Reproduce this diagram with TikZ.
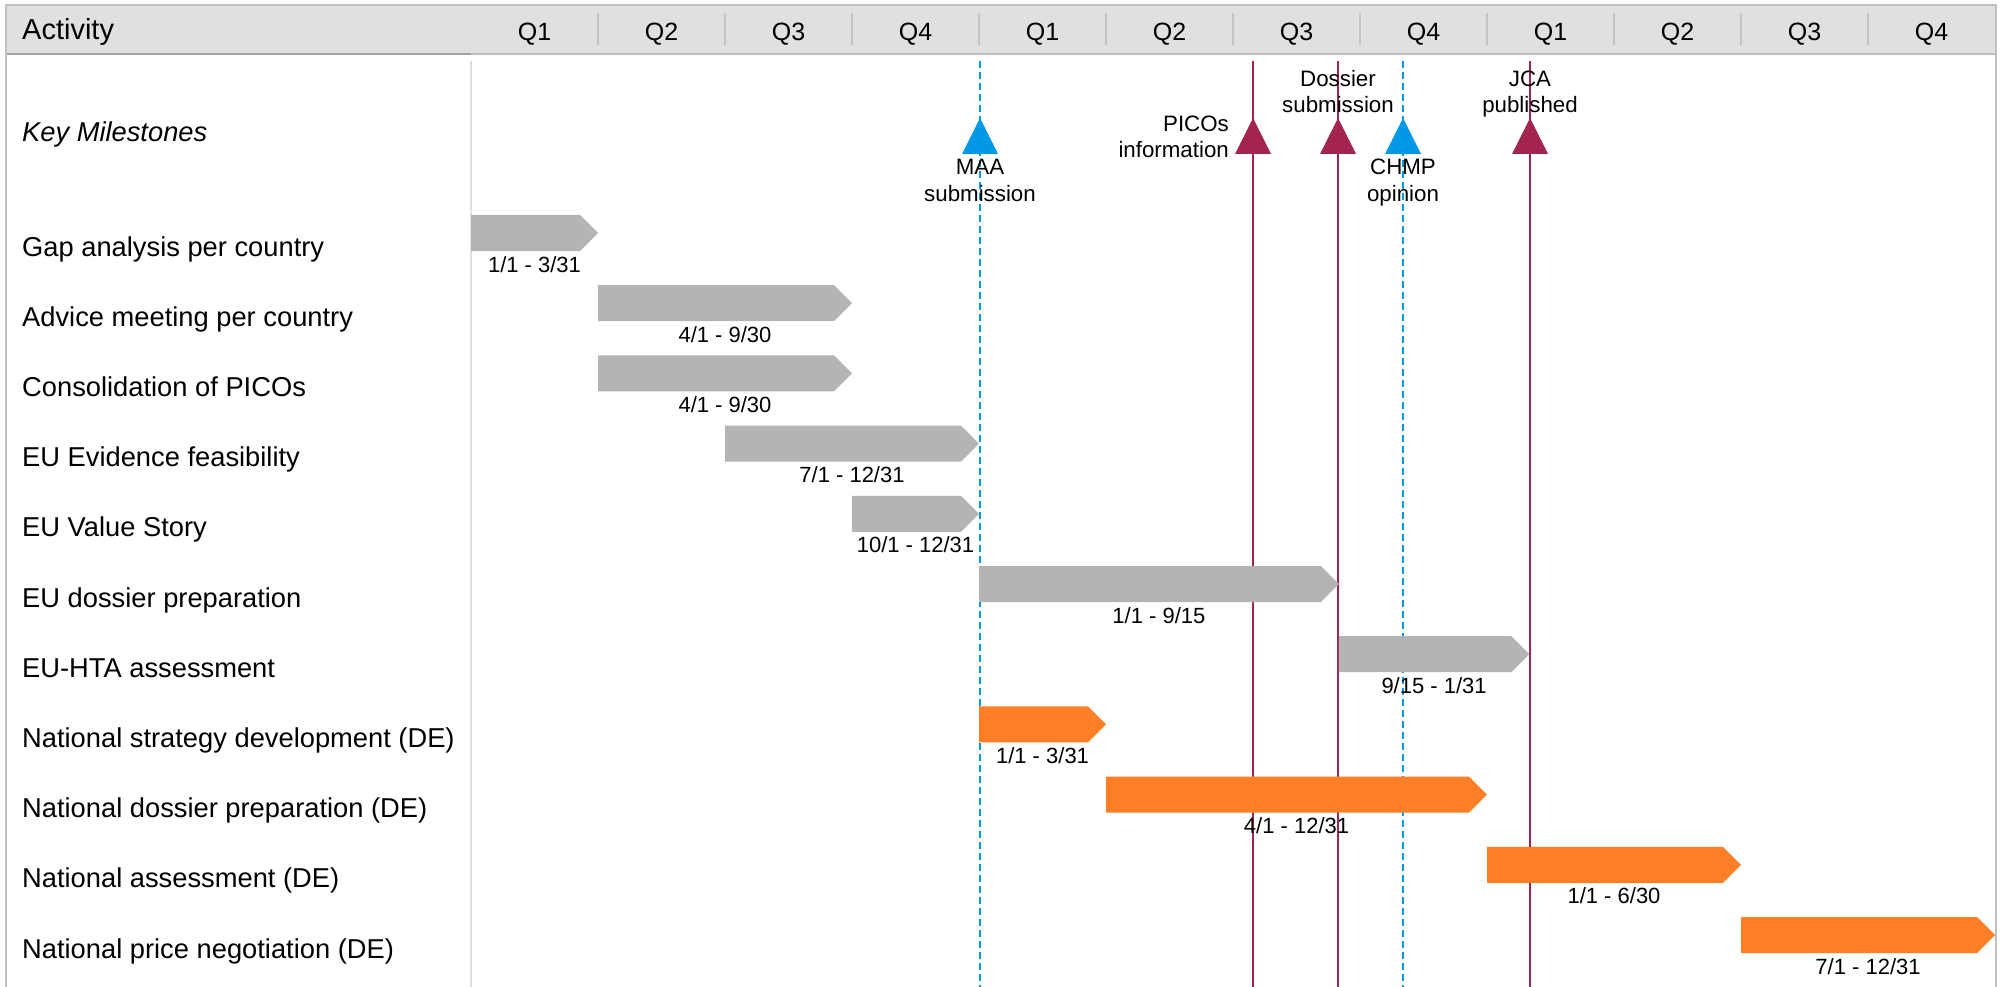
\documentclass[tikz,border=0pt]{standalone}
\usepackage{fontspec}
\setmainfont{Liberation Sans}

\definecolor{hdrFill}{RGB}{224,224,224}
\definecolor{frameGray}{RGB}{192,192,192}
\definecolor{sepGray}{RGB}{196,196,196}
\definecolor{gridGray}{RGB}{224,224,224}
\definecolor{barGray}{RGB}{180,180,180}
\definecolor{barOrange}{RGB}{255,127,39}
\definecolor{msBlue}{RGB}{0,153,229}
\definecolor{msRed}{RGB}{163,36,76}

% Gantt bar: name, row, start quarter, end quarter, colour, date text
\newcommand\ganttbar[6]{%
  \pgfmathsetmacro\gbx{471+#3*127}%
  \pgfmathsetmacro\gex{471+#4*127}%
  \pgfmathsetmacro\gty{215+#2*70.2}%
  \fill[#5] (\gbx,\gty) -- (\gex-18,\gty) -- (\gex,\gty+18) -- (\gex-18,\gty+36) -- (\gbx,\gty+36) -- cycle;
  \node[datelabel] (#1) at ({(\gbx+\gex)/2},\gty+57) {#6};
}
% Activity name in the left column
\newcommand\rowname[3]{%
  \pgfmathsetmacro\gry{215+#2*70.2+41}%
  \node[rowlabel] (#1) at (22,\gry) {#3};
}
% Milestone: vertical rule from below the header to the bottom edge
\newcommand\milestone[4]{% name, x, colour, line style
  \coordinate (#1top) at (#2,61);
  \coordinate (#1bot) at (#2,987);
  \draw[#4] (#1top) -- (#1bot);
}
\newcommand\mstriangle[2]{%
  \fill[#2] (#1-18,154) -- (#1,118) -- (#1+18,154) -- cycle;
}

\begin{document}
\begin{tikzpicture}[x=1pt,y=-1pt,
  rowlabel/.style={anchor=base west, inner sep=0pt, font=\fontsize{27.3}{32}\selectfont},
  datelabel/.style={anchor=base, inner sep=0pt, font=\fontsize{22}{26}\selectfont},
  mslabel/.style={anchor=base, inner sep=0pt, font=\fontsize{22.3}{26}\selectfont},
  qlabel/.style={anchor=base, inner sep=0pt, font=\fontsize{25}{30}\selectfont},
  headlabel/.style={anchor=base west, inner sep=0pt, font=\fontsize{29}{34}\selectfont},
  frameline/.style={draw=frameGray, line width=2pt},
  eventline/.style={draw=msRed, line width=2.2pt},
  regline/.style={draw=msBlue, line width=2pt, dash pattern=on 7pt off 4pt},
]
\useasboundingbox (0,0) rectangle (2002,987);
\fill[white] (0,0) rectangle (2002,987);

% header band
\fill[hdrFill] (6,5) rectangle (1996,54);
\draw[draw=frameGray, line width=1.5pt] (6,54) -- (1996,54);
\draw[draw=frameGray!85!black, line width=1.5pt] (6,54) -- (471,54);
\draw[frameline] (6,987) -- (6,5) -- (1996,5) -- (1996,987);

% quarter separators in the header
\foreach \k in {1,...,11}
  \draw[draw=sepGray, line width=2pt] ({471+\k*127},13) -- ({471+\k*127},45);

\node[headlabel] (activity) at (22,40) {Activity};
\foreach \i in {1,...,12}{
  \pgfmathtruncatemacro\qn{mod(\i-1,4)+1}
  \node[qlabel] (q\i) at ({471+(\i-0.5)*127},41) {Q\qn};
}

% activity column divider
\coordinate (divtop) at (471,61);
\coordinate (divbot) at (471,987);
\draw[draw=gridGray, line width=2pt] (divtop) -- (divbot);

% milestone rules
\milestone{maa}{980}{msBlue}{regline}
\milestone{pico}{1253}{msRed}{eventline}
\milestone{dossier}{1338}{msRed}{eventline}
\milestone{chmp}{1403}{msBlue}{regline}
\milestone{jca}{1530}{msRed}{eventline}

% activity bars
\ganttbar{d1}{0}{0}{1}{barGray}{1/1 - 3/31}
\ganttbar{d2}{1}{1}{3}{barGray}{4/1 - 9/30}
\ganttbar{d3}{2}{1}{3}{barGray}{4/1 - 9/30}
\ganttbar{d4}{3}{2}{4}{barGray}{7/1 - 12/31}
\ganttbar{d5}{4}{3}{4}{barGray}{10/1 - 12/31}
\ganttbar{d6}{5}{4}{6.8333}{barGray}{1/1 - 9/15}
\ganttbar{d7}{6}{6.8333}{8.3333}{barGray}{9/15 - 1/31}
\ganttbar{d8}{7}{4}{5}{barOrange}{1/1 - 3/31}
\ganttbar{d9}{8}{5}{8}{barOrange}{4/1 - 12/31}
\ganttbar{d10}{9}{8}{10}{barOrange}{1/1 - 6/30}
\ganttbar{d11}{10}{10}{12}{barOrange}{7/1 - 12/31}

% milestone markers
\mstriangle{980}{msBlue}
\mstriangle{1253}{msRed}
\mstriangle{1338}{msRed}
\mstriangle{1403}{msBlue}
\mstriangle{1530}{msRed}

% milestone captions
\node[mslabel] (maa1) at (980,175) {MAA};
\node[mslabel] (maa2) at (980,202) {submission};
\node[mslabel, anchor=base east] (pico1) at (1229,132) {PICOs};
\node[mslabel, anchor=base east] (pico2) at (1229,158) {information};
\node[mslabel] (dos1) at (1338,87) {Dossier};
\node[mslabel] (dos2) at (1338,113) {submission};
\node[mslabel] (chmp1) at (1403,175) {CHMP};
\node[mslabel] (chmp2) at (1403,202) {opinion};
\node[mslabel] (jca1) at (1530,87) {JCA};
\node[mslabel] (jca2) at (1530,113) {published};

% activity names
\node[rowlabel, font=\fontsize{27.3}{32}\selectfont\itshape] (keyms) at (22,142) {Key Milestones};
\rowname{a1}{0}{Gap analysis per country}
\rowname{a2}{1}{Advice meeting per country}
\rowname{a3}{2}{Consolidation of PICOs}
\rowname{a4}{3}{EU Evidence feasibility}
\rowname{a5}{4}{EU Value Story}
\rowname{a6}{5}{EU dossier preparation}
\rowname{a7}{6}{EU-HTA assessment}
\rowname{a8}{7}{National strategy development (DE)}
\rowname{a9}{8}{National dossier preparation (DE)}
\rowname{a10}{9}{National assessment (DE)}
\rowname{a11}{10}{National price negotiation (DE)}
\end{tikzpicture}
\end{document}
